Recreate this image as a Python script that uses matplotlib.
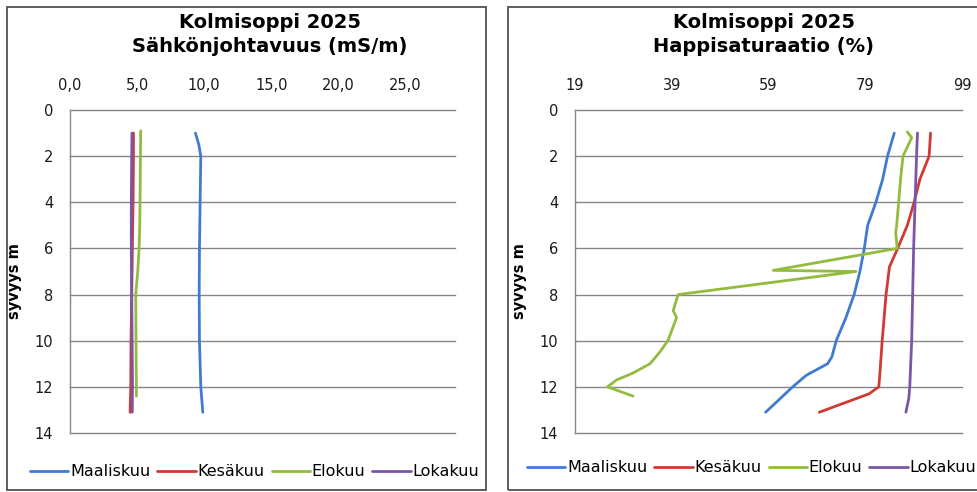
import matplotlib
matplotlib.use("Agg")
import matplotlib.pyplot as plt
from matplotlib.patches import Rectangle

# === DATA ===
months = ["Maaliskuu", "Kesäkuu", "Elokuu", "Lokakuu"]
colors = ["#3F7BD1", "#D03A35", "#93BC3F", "#7A55A8"]

# Sähkönjohtavuus (mS/m)
sj_maalis_d = [1.0, 1.5, 2.0, 4.0, 6.0, 8.0, 10.0, 12.0, 13.1]
sj_maalis_v = [9.35, 9.6, 9.75, 9.7, 9.65, 9.63, 9.65, 9.75, 9.9]
sj_kesa_d = [1.0, 2.0, 4.0, 6.0, 8.0, 10.0, 12.0, 13.1]
sj_kesa_v = [4.73, 4.73, 4.7, 4.65, 4.6, 4.55, 4.53, 4.48]
sj_elo_d = [0.9, 2.0, 4.0, 5.0, 6.0, 7.0, 8.0, 10.0, 12.0, 12.4]
sj_elo_v = [5.27, 5.25, 5.22, 5.2, 5.15, 5.05, 4.9, 4.92, 4.95, 4.95]
sj_loka_d = [1.0, 2.0, 4.0, 6.0, 8.0, 10.0, 12.0, 13.1]
sj_loka_v = [4.62, 4.6, 4.57, 4.57, 4.6, 4.63, 4.66, 4.64]

# Happisaturaatio (%)
hs_maalis_d = [1.0, 2.0, 3.0, 4.0, 5.0, 6.0, 7.0, 8.0, 9.0, 10.0, 10.7, 11.0, 11.5, 12.0, 13.1]
hs_maalis_v = [85.0, 83.6, 82.6, 81.2, 79.5, 78.8, 77.9, 76.7, 75.0, 73.0, 72.1, 71.2, 66.8, 64.0, 58.4]
hs_kesa_d = [1.0, 2.0, 3.0, 4.0, 5.0, 6.0, 6.8, 8.0, 10.0, 11.5, 12.0, 12.3, 13.1]
hs_kesa_v = [92.5, 92.2, 90.3, 89.1, 87.7, 85.7, 84.0, 83.3, 82.5, 82.0, 81.8, 79.8, 69.5]
hs_elo_d = [0.95, 1.2, 2.0, 3.0, 4.0, 5.0, 5.3, 6.0, 6.95, 7.0, 8.0, 8.7, 9.0, 10.0, 10.5, 11.0, 11.4, 11.7, 12.0, 12.4]
hs_elo_v = [87.7, 88.6, 86.8, 86.3, 85.9, 85.5, 85.3, 85.6, 60.0, 77.1, 40.3, 39.3, 40.0, 38.2, 36.5, 34.5, 31.0, 27.6, 25.7, 31.0]
hs_loka_d = [1.0, 2.0, 4.0, 6.0, 8.0, 10.0, 12.0, 12.5, 13.1]
hs_loka_v = [89.8, 89.6, 89.3, 89.0, 88.8, 88.6, 88.2, 88.0, 87.4]

sj_ticks = [0, 5, 10, 15, 20, 25]
sj_ticklabels = ["0,0", "5,0", "10,0", "15,0", "20,0", "25,0"]
hs_ticks = [19, 39, 59, 79, 99]
depth_ticks = [0, 2, 4, 6, 8, 10, 12, 14]

W, H = 978, 492
fig = plt.figure(figsize=(W / 100, H / 100), dpi=100)


def px_axes(x0, x1, y0, y1):
    return fig.add_axes([x0 / W, 1 - y1 / H, (x1 - x0) / W, (y1 - y0) / H])


# chart frames
for x0, x1 in [(7, 486), (508, 1000)]:
    fig.patches.append(Rectangle((x0 / W, 1 - 490 / H), (x1 - x0) / W, (490 - 7) / H,
                                 transform=fig.transFigure, facecolor="none",
                                 edgecolor="#505050", lw=1.3, zorder=0))


def style(ax, xlim, ticks, labels):
    ax.set_xlim(*xlim)
    ax.set_ylim(14, 0)
    ax.xaxis.tick_top()
    ax.set_xticks(ticks)
    ax.set_xticklabels(labels)
    ax.set_yticks(depth_ticks)
    ax.tick_params(length=0, pad=12, labelsize=10.5, labelcolor="#1a1a1a")
    for s in ["top", "right", "bottom"]:
        ax.spines[s].set_visible(False)
    ax.spines["left"].set_color("#888888")
    ax.spines["left"].set_linewidth(1.0)
    ax.grid(axis="y", color="#858585", lw=1.0)
    ax.grid(axis="x", visible=False)
    for gl in ax.get_ygridlines():
        gl.set_clip_on(False)
    ax.set_axisbelow(True)
    ax.set_facecolor("none")
    ax.set_ylabel("syvyys m", fontsize=10.5, fontweight="bold")
    ax.yaxis.set_label_coords(-0.125, 0.47)


# left panel
ax1 = px_axes(70, 455, 110, 433)
for d, v, c, m in zip([sj_maalis_d, sj_kesa_d, sj_elo_d, sj_loka_d],
                      [sj_maalis_v, sj_kesa_v, sj_elo_v, sj_loka_v], colors, months):
    ax1.plot(v, d, color=c, lw=2.0, label=m, solid_joinstyle="round", solid_capstyle="round")
style(ax1, (0, 28.7), sj_ticks, sj_ticklabels)

# right panel
ax2 = px_axes(575, 962, 110, 433)
for d, v, c, m in zip([hs_maalis_d, hs_kesa_d, hs_elo_d, hs_loka_d],
                      [hs_maalis_v, hs_kesa_v, hs_elo_v, hs_loka_v], colors, months):
    ax2.plot(v, d, color=c, lw=2.0, label=m, solid_joinstyle="round", solid_capstyle="round")
style(ax2, (19, 99), hs_ticks, [str(t) for t in hs_ticks])

# titles
fig.text(270 / W, 1 - 34.5 / H, "Kolmisoppi 2025\nSähkönjohtavuus (mS/m)", ha="center",
         va="center", fontsize=14, fontweight="bold", linespacing=1.3)
fig.text(764 / W, 1 - 34.5 / H, "Kolmisoppi 2025\nHappisaturaatio (%)", ha="center",
         va="center", fontsize=14, fontweight="bold", linespacing=1.3)

# legends
for ax, xl, yl in [(ax1, 30, 472), (ax2, 527, 468)]:
    ax.legend(loc="center left", bbox_to_anchor=(xl / W, 1 - yl / H),
              bbox_transform=fig.transFigure, ncol=4, frameon=False, fontsize=11.5,
              handlelength=2.4, handletextpad=0.1, columnspacing=0.45, borderpad=0,
              borderaxespad=0)

fig.savefig("out.png", dpi=100)
